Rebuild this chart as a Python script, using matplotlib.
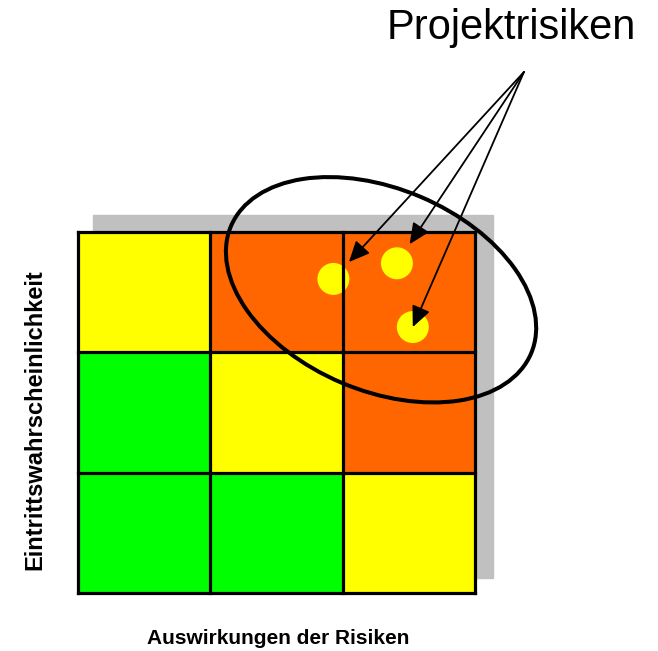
import matplotlib
matplotlib.use("Agg")
import matplotlib.pyplot as plt
import matplotlib.transforms as mtransforms
from matplotlib.colors import ListedColormap
from matplotlib.patches import Rectangle, Ellipse
import numpy as np

plt.rcParams['font.family'] = ['Liberation Sans', 'DejaVu Sans']

# risk level per cell (0 = low/green, 1 = medium/yellow, 2 = high/orange), bottom row first
levels = [[0, 0, 1],
          [0, 1, 2],
          [1, 2, 2]]
level_colors = ['#00FF00', '#FFFF00', '#FF6600']

# the project risks placed in the matrix (impact, probability)
risk_x = [1.93, 2.41, 2.53]
risk_y = [2.61, 2.74, 2.21]
arrow_gap = [16.5, 16.5, 0]   # where each arrow stops, points before the risk

title = 'Projektrisiken'
xlab = 'Auswirkungen der Risiken'
ylab = 'Eintrittswahrscheinlichkeit'

fig = plt.figure(figsize=(6.58, 6.51), dpi=100)
ax = fig.add_axes([78/658, 58/651, 397/658, 361/651])
ax.set_xlim(0, 3)
ax.set_ylim(0, 3)
ax.axis('off')

n = len(levels)

# grey shadow behind the matrix
ax.add_patch(Rectangle((0.113, 0.125), n + 0.023, n + 0.016, color='#C0C0C0',
                       zorder=0, clip_on=False))

ax.pcolormesh(np.arange(n + 1), np.arange(n + 1), levels,
              cmap=ListedColormap(level_colors), vmin=-0.5, vmax=2.5, zorder=1)

# grid lines
for k in range(n + 1):
    ax.plot([k, k], [0, n], color='k', lw=2.3, solid_capstyle='projecting',
            zorder=3, clip_on=False)
    ax.plot([0, n], [k, k], color='k', lw=2.3, solid_capstyle='projecting',
            zorder=3, clip_on=False)

# risks
ax.scatter(risk_x, risk_y, s=530, color='#FFFF00', edgecolors='none',
           zorder=2, clip_on=False)

# arrows from the label to every risk
src = (3.37, 4.33)
for x, y, g in zip(risk_x, risk_y, arrow_gap):
    ax.annotate('', xy=(x, y), xytext=src, annotation_clip=False,
                arrowprops=dict(arrowstyle='-|>,head_length=0.55,head_width=0.25',
                                color='k', lw=1.3, shrinkA=0, shrinkB=g,
                                mutation_scale=23), zorder=4)

# ellipse around the risks
cx, cy = np.mean(risk_x), np.mean(risk_y)
trans = fig.dpi_scale_trans + mtransforms.ScaledTranslation(cx, cy, ax.transData)
ax.add_patch(Ellipse((0, 0), 3.26, 2.02, angle=-23, fill=False, edgecolor='k',
                     lw=2.9, transform=trans, zorder=5, clip_on=False))

fig.text(511/658, (651-39)/651, title, ha='center', va='baseline', fontsize=30)
fig.text(278/658, (651-644)/651, xlab, ha='center', va='baseline',
         fontsize=15, fontweight='bold')
fig.text(35/658, (651-420)/651, ylab, ha='center', va='center', rotation=90,
         fontsize=17, fontweight='bold')

fig.savefig('out.png', dpi=100)
